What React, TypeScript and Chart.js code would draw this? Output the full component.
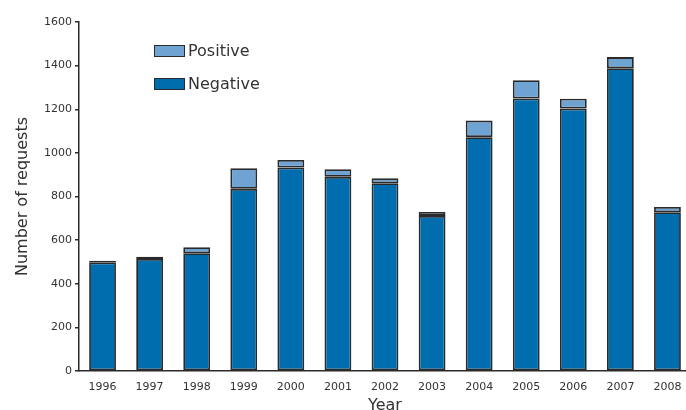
import React, { useEffect, useRef } from "react";
import { Chart, registerables } from "chart.js";

Chart.register(...registerables);

const years = ["1996","1997","1998","1999","2000","2001","2002","2003","2004","2005","2006","2007","2008"];
const negative = [498, 514, 540, 835, 933, 890, 861, 711, 1072, 1249, 1203, 1388, 728];
const positive = [8, 10, 27, 95, 34, 35, 23, 18, 76, 84, 45, 51, 24];
const yTicks = [0, 200, 400, 600, 800, 1000, 1200, 1400, 1600];

const FONT = '"DejaVu Sans", sans-serif';
const NEG = "#006dae";
const POS = "#6fa3d2";
const EDGE = "#2a2a2a";

export default function App() {
  const ref = useRef<HTMLCanvasElement | null>(null);
  useEffect(() => {
    document.body.style.margin = "0";
    const ctx = ref.current!;
    const chart = new Chart(ctx, {
      type: "bar",
      data: {
        labels: years,
        datasets: [
          { label: "Negative", data: negative, backgroundColor: NEG, borderColor: EDGE, borderWidth: 1.8, borderSkipped: false, barPercentage: 0.57, categoryPercentage: 1 },
          { label: "Positive", data: positive, backgroundColor: POS, borderColor: EDGE, borderWidth: 1.8, borderSkipped: false, barPercentage: 0.57, categoryPercentage: 1 },
        ],
      },
      options: {
        animation: false,
        responsive: false,
        maintainAspectRatio: false,
        layout: { padding: { top: 22, right: 9, left: 13, bottom: 0 } },
        plugins: { legend: { display: false }, tooltip: { enabled: false } },
        scales: {
          x: {
            stacked: true,
            grid: { display: false },
            border: { color: EDGE, width: 1.5 },
            ticks: { color: "#333", font: { family: FONT, size: 11 }, padding: 2, maxRotation: 0 },
            title: { display: true, text: "Year", color: "#333", font: { family: FONT, size: 16 }, padding: { top: 0, bottom: 5 } },
            afterFit: (s: any) => { s.height = 49; },
          },
          y: {
            stacked: true,
            min: 0,
            max: 1600,
            afterBuildTicks: (s: any) => { s.ticks = yTicks.map((v) => ({ value: v })); },
            grid: { drawOnChartArea: false, drawTicks: true, tickLength: 4, color: EDGE, lineWidth: 1.5 },
            border: { color: EDGE, width: 1.5 },
            ticks: { color: "#333", font: { family: FONT, size: 11 }, padding: 3, callback: (v: any) => String(v) },
            title: { display: true, text: "Number of requests", color: "#333", font: { family: FONT, size: 16 }, padding: { top: 0, bottom: 0 } },
            afterFit: (s: any) => { s.width = 66; },
          },
        },
      },
    });
    return () => chart.destroy();
  }, []);

  const legendItem = (color: string, text: string, top: number) => (
    <div style={{ position: "absolute", left: 154, top, display: "flex", alignItems: "center" }}>
      <div style={{ width: 29, height: 10, background: color, border: `1.5px solid ${EDGE}` }} />
      <span style={{ marginLeft: 3, fontFamily: FONT, fontSize: 16, color: "#333", lineHeight: "18px" }}>{text}</span>
    </div>
  );

  return (
    <div style={{ position: "relative", width: 686, height: 410, overflow: "hidden", background: "#fff" }}>
      <canvas ref={ref} width={700} height={420} style={{ position: "absolute", left: 0, top: 0, width: 700, height: 420 }} />
      {legendItem(POS, "Positive", 42)}
      {legendItem(NEG, "Negative", 75)}
    </div>
  );
}
